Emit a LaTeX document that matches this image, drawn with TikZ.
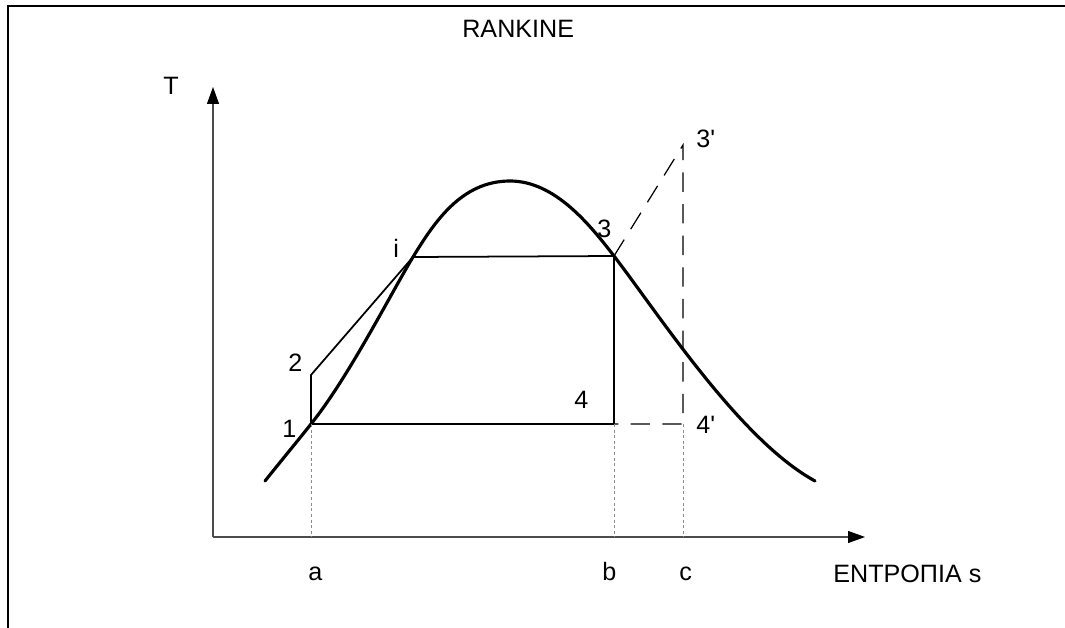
\documentclass[tikz,border=0pt]{standalone}
\usepackage{fontspec}
\setmainfont{Liberation Sans}
\usetikzlibrary{arrows.meta}
\begin{document}
\begin{tikzpicture}[x=0.02cm,y=-0.02cm,
    etichetta/.style={inner sep=0pt,anchor=base west,font=\fontsize{14.3}{16}\selectfont},
    asse/.style={draw=black!70,line width=0.6pt,-{Triangle[length=0.34cm,width=0.24cm,color=black]}},
    ciclo/.style={line width=1pt},
    campana/.style={line width=1.8pt,line cap=round},
    tratteggio/.style={line width=0.7pt,dash pattern=on 11pt off 7pt},
    proiezione/.style={draw=black!45,line width=0.5pt,dash pattern=on 1.7pt off 1.5pt}]
    \useasboundingbox (0,0) rectangle (1065,628);

    % Cornice
    \draw[line width=1.1pt] (8,628) -- (8,6) -- (1065,6);

    % Punti del ciclo
    \coordinate (O) at (213,537);
    \coordinate (Ty) at (213,87);
    \coordinate (Sx) at (865,537);
    \coordinate (p1) at (311,424);
    \coordinate (p2) at (311,375);
    \coordinate (pi) at (413,257);
    \coordinate (p3) at (614,256);
    \coordinate (p4) at (614,424);
    \coordinate (p3s) at (683,145);
    \coordinate (p4s) at (683,424);
    \coordinate (vertice) at (510,181);

    % Assi
    \draw[asse] (O) -- (Ty);
    \draw[asse] (O) -- (Sx);

    % Curva limite
    \draw[campana] (265,481) .. controls (285,456) and (300,438) .. (p1)
        .. controls (348,378) and (389,297) .. (pi)
        .. controls (435,221) and (462,181) .. (vertice)
        .. controls (555,181) and (590,225) .. (p3)
        .. controls (660,316) and (740,440) .. (815,481);

    % Ciclo
    \draw[ciclo] (p1) -- (p2) -- (pi) -- (p3) -- (p4) -- cycle;
    \draw[tratteggio] (p3) -- (p3s) -- (p4s) -- (p4);

    % Proiezioni sull'asse
    \draw[proiezione] (p1) -- (p1 |- O);
    \draw[proiezione] (p4) -- (p4 |- O);
    \draw[proiezione] (p4s) -- (p4s |- O);

    % Etichette
    \node[etichetta] (titolo) at (462,38) {RANKINE};
    \node[etichetta] (lT) at (163,95) {T};
    \node[etichetta] (l2) at (288,371) {2};
    \node[etichetta] (l1) at (282,437) {1};
    \node[etichetta] (li) at (393,257) {i};
    \node[etichetta] (l3) at (597,238) {3};
    \node[etichetta] (l3s) at (696,148) {3\textquotesingle};
    \node[etichetta] (l4) at (574,408) {4};
    \node[etichetta] (l4s) at (696,433) {4\textquotesingle};
    \node[etichetta] (la) at (308,580) {a};
    \node[etichetta] (lb) at (602,580) {b};
    \node[etichetta] (lc) at (679,580) {c};
    \node[etichetta] (ls) at (833,582) {ΕΝΤΡΟΠΙΑ s};
\end{tikzpicture}
\end{document}
